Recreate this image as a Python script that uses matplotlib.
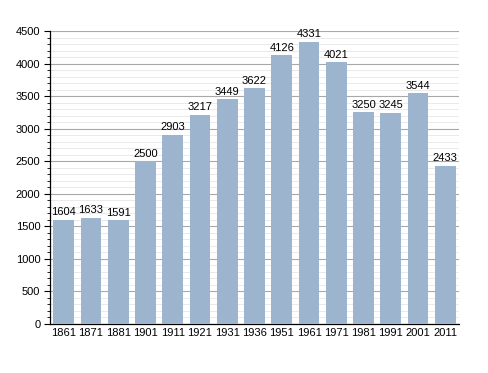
import matplotlib
matplotlib.use("Agg")
import matplotlib.pyplot as plt
from matplotlib.ticker import MultipleLocator

years = ["1861", "1871", "1881", "1901", "1911", "1921", "1931", "1936",
         "1951", "1961", "1971", "1981", "1991", "2001", "2011"]
population = [1604, 1633, 1591, 2500, 2903, 3217, 3449, 3622,
              4126, 4331, 4021, 3250, 3245, 3544, 2433]

plt.rcParams['font.family'] = ['Liberation Sans', 'DejaVu Sans']

fig = plt.figure(figsize=(4.88, 3.73), dpi=100)
ax = fig.add_axes([50/488, 1-324/373, (459-50)/488, (324-31)/373])

x = range(len(years))
bars = ax.bar(x, population, width=0.76, color='#9db4cf', zorder=3)
for xi, v in zip(x, population):
    ax.text(xi, v + 40, str(v), ha='center', va='bottom', fontsize=8, color='black', zorder=4)

ax.set_xlim(-0.5, len(years) - 0.5)
ax.set_ylim(0, 4500)
ax.set_xticks(list(x))
ax.set_xticklabels(years, fontsize=8)
ax.tick_params(axis='x', length=0, pad=3)
ax.yaxis.set_major_locator(MultipleLocator(500))
ax.yaxis.set_minor_locator(MultipleLocator(100))
ax.tick_params(axis='y', which='major', length=4, width=0.8, labelsize=8, pad=3, direction='out')
ax.tick_params(axis='y', which='minor', length=2, width=0.6, direction='out')
ax.grid(axis='y', which='major', color='#a8a8a8', linewidth=0.8, zorder=1)
ax.grid(axis='y', which='minor', color='#e6e6e6', linewidth=0.6, zorder=1)
for s in ['top', 'right']:
    ax.spines[s].set_visible(False)
ax.spines['left'].set_linewidth(0.9)
ax.spines['bottom'].set_linewidth(0.9)

fig.savefig("out.png", dpi=100)
